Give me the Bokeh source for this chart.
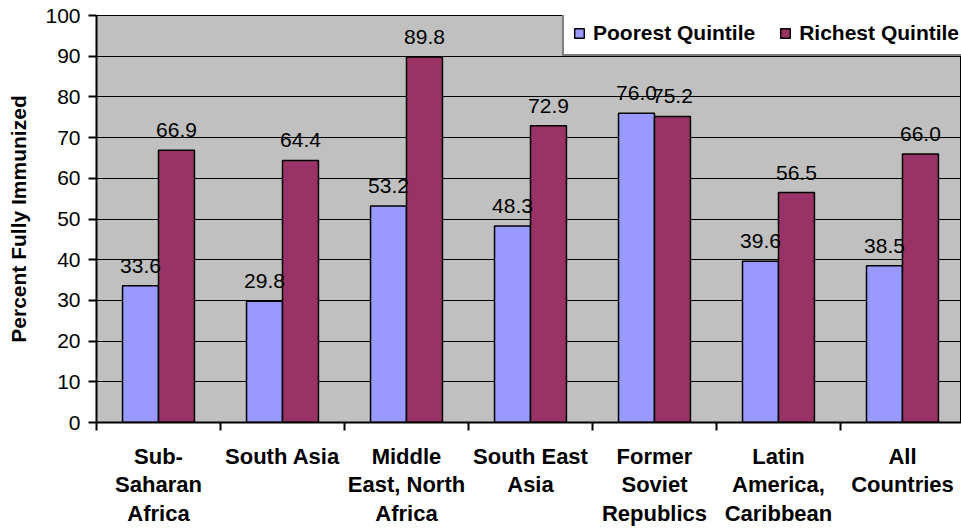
import numpy as np
from bokeh.plotting import figure
from bokeh.models import (Range1d, FixedTicker, Legend, LegendItem, ColumnDataSource,
                          LabelSet, CustomJSTickFormatter)
from bokeh.core.properties import value
from bokeh.embed import file_html
from bokeh.resources import INLINE

categories = ["Sub-\nSaharan\nAfrica", "South Asia", "Middle\nEast, North\nAfrica",
              "South East\nAsia", "Former\nSoviet\nRepublics", "Latin\nAmerica,\nCaribbean",
              "All\nCountries"]
poorest = [33.6, 29.8, 53.2, 48.3, 76.0, 39.6, 38.5]
richest = [66.9, 64.4, 89.8, 72.9, 75.2, 56.5, 66.0]
series_names = ["Poorest Quintile", "Richest Quintile"]
series_colors = ["#9999FF", "#993366"]
y_ticks = [0, 10, 20, 30, 40, 50, 60, 70, 80, 90, 100]
y_title = "Percent Fully Immunized"

FONT = "Liberation Sans"
FS = "21px"

n = len(categories)
centers = np.arange(n) + 0.5
bw = 0.29

p = figure(width=961, height=529, x_range=Range1d(0, 6.976), y_range=Range1d(0, 100),
           toolbar_location=None, output_backend="svg",
           min_border_left=96, min_border_right=0, min_border_top=15, min_border_bottom=106,
           background_fill_color="#C0C0C0", border_fill_color="white",
           outline_line_color="black", outline_line_width=1)

# grid
p.xgrid.visible = False
p.ygrid.ticker = FixedTicker(ticks=y_ticks)
p.ygrid.grid_line_color = "black"
p.ygrid.grid_line_width = 1

# bars
src_p = ColumnDataSource(dict(x=centers - bw / 2, top=poorest,
                              txt=[f"{v:.1f}" for v in poorest]))
src_r = ColumnDataSource(dict(x=centers + bw / 2, top=richest,
                              txt=[f"{v:.1f}" for v in richest]))
r1 = p.vbar(x="x", top="top", width=bw, source=src_p, fill_color=series_colors[0],
            line_color="black", line_width=1.5)
r2 = p.vbar(x="x", top="top", width=bw, source=src_r, fill_color=series_colors[1],
            line_color="black", line_width=1.5)

for src in (src_p, src_r):
    p.add_layout(LabelSet(x="x", y="top", text="txt", source=src, y_offset=13,
                          text_align="center", text_baseline="alphabetic",
                          text_font=value(FONT), text_font_size=value(FS),
                          text_color="black"))

# y axis
ya = p.yaxis[0]
ya.ticker = FixedTicker(ticks=y_ticks, minor_ticks=[])
ya.axis_line_width = 2
ya.axis_line_color = "black"
ya.major_tick_out = 8
ya.major_tick_in = 0
ya.major_tick_line_width = 2
ya.major_label_standoff = 8
ya.major_label_text_font = FONT
ya.major_label_text_font_size = FS
ya.major_label_text_color = "black"
ya.axis_label = y_title
ya.axis_label_text_font = FONT
ya.axis_label_text_font_size = "21px"
ya.axis_label_text_font_style = "bold"
ya.axis_label_text_color = "black"
ya.axis_label_standoff = 12

# x axis
xa = p.xaxis[0]
xa.ticker = FixedTicker(ticks=list(centers), minor_ticks=list(range(n + 1)))
xa.formatter = CustomJSTickFormatter(args=dict(labels=categories),
                                     code="return labels[Math.round(tick - 0.5)];")
xa.axis_line_width = 2
xa.axis_line_color = "black"
xa.major_tick_out = 0
xa.major_tick_in = 0
xa.minor_tick_out = 8
xa.minor_tick_in = 0
xa.minor_tick_line_width = 2
xa.minor_tick_line_color = "black"
xa.major_label_standoff = 13
xa.major_label_text_font = FONT
xa.major_label_text_font_size = "22px"
xa.major_label_text_font_style = "bold"
xa.major_label_text_color = "black"
xa.major_label_text_line_height = 1.15

legend = Legend(items=[LegendItem(label=series_names[0], renderers=[r1]),
                       LegendItem(label=series_names[1], renderers=[r2])],
                orientation="horizontal", location=(466, 366),
                border_line_color="black", border_line_width=2,
                background_fill_color="white", background_fill_alpha=1,
                label_text_font=FONT, label_text_font_size=FS,
                label_text_font_style="bold", label_text_color="black",
                label_height=21, label_text_baseline="middle",
                glyph_width=12, glyph_height=12, label_standoff=8, spacing=24,
                padding=9, margin=0)
p.add_layout(legend)

open("out.html", "w").write(file_html(p, INLINE))
